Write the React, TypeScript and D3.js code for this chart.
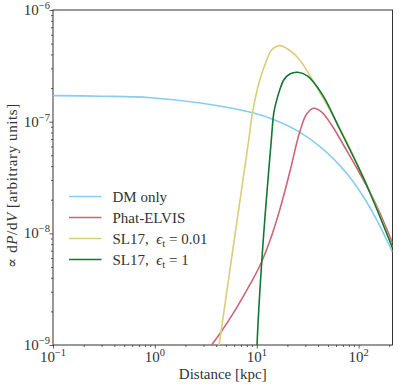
import { useEffect, useRef } from "react";
import * as d3 from "d3";

// distances in kpc, values in arbitrary units
const dmR = [0.1, 0.3, 0.9, 2.8, 9.14, 15, 26.4, 44.4, 65.2, 85.3, 114.6, 150, 215];
const dmV = [1.71e-7, 1.69e-7, 1.64e-7, 1.47e-7, 1.2e-7, 1.035e-7, 8.05e-8, 5.71e-8, 4.06e-8, 3.04e-8, 2.04e-8, 1.33e-8, 6.8e-9];

const elvisR = [3.09, 3.6, 4.34, 6.08, 8.53, 10.7, 13.4, 16.8, 21.1, 26.4, 30.9, 36.2, 43.4, 54.3, 72.9, 102, 144, 215];
const elvisV = [8.4e-10, 1e-9, 1.26e-9, 2.02e-9, 3.45e-9, 5.1e-9, 8.5e-9, 1.62e-8, 3.54e-8, 8.07e-8, 1.17e-7, 1.32e-7, 1.22e-7, 9.34e-8, 5.93e-8, 3.47e-8, 1.91e-8, 8.2e-9];

const sl001R = [3.87, 4.27, 5.82, 8.35, 9.08, 10.7, 12.2, 14.0, 16.4, 20.1, 26.4, 38.7, 65.1, 115, 215];
const sl001V = [5.4e-10, 1e-9, 7.1e-9, 6.86e-8, 1.2e-7, 2.36e-7, 3.35e-7, 4.38e-7, 4.79e-7, 4.48e-7, 3.57e-7, 2.04e-7, 8.8e-8, 3.0e-8, 7.55e-9];

const sl1R = [9.89, 10.07, 11.4, 13.9, 14.7, 15.7, 16.8, 18.4, 21.1, 25.2, 31.6, 44.4, 65.1, 115, 215];
const sl1V = [3.2e-10, 1e-9, 7.1e-9, 6.86e-8, 1.2e-7, 1.56e-7, 1.92e-7, 2.36e-7, 2.67e-7, 2.77e-7, 2.56e-7, 1.73e-7, 8.6e-8, 2.94e-8, 7.4e-9];

const seriesR = [dmR, elvisR, sl001R, sl1R];
const seriesV = [dmV, elvisV, sl001V, sl1V];
const seriesColors = ["#88CCEE", "#CC6677", "#DDCC77", "#117733"];

const xMajor = [0.1, 1, 10, 100];
const xExp = ["\u22121", "0", "1", "2"];
const yMajor = [1e-9, 1e-8, 1e-7, 1e-6];
const yExp = ["\u22129", "\u22128", "\u22127", "\u22126"];

const FONT = "'Liberation Serif', 'DejaVu Serif', serif";

export default function App() {
  const ref = useRef<SVGSVGElement>(null);

  useEffect(() => {
    document.body.style.margin = "0";
    const width = 399;
    const height = 386;
    const margin = { top: 10, right: 6.5, bottom: 41, left: 53 };
    const innerW = width - margin.left - margin.right;
    const innerH = height - margin.top - margin.bottom;

    const svg = d3.select(ref.current);
    svg.selectAll("*").remove();
    svg.attr("width", width).attr("height", height).style("font-family", FONT);

    const x = d3.scaleLog().domain([0.1, 215]).range([0, innerW]);
    const y = d3.scaleLog().domain([1e-9, 1e-6]).range([innerH, 0]);

    svg.append("defs").append("clipPath").attr("id", "plotclip")
      .append("rect").attr("width", innerW).attr("height", innerH);

    const g = svg.append("g").attr("transform", `translate(${margin.left},${margin.top})`);

    // minor tick values
    const xMinor: number[] = [];
    for (let e = -1; e <= 2; e++) for (let k = 2; k <= 9; k++) {
      const v = k * Math.pow(10, e);
      if (v < 215) xMinor.push(v);
    }
    const yMinor: number[] = [];
    for (let e = -9; e <= -7; e++) for (let k = 2; k <= 9; k++) yMinor.push(k * Math.pow(10, e));

    const axisColor = "#333";

    const styleAxis = (sel: any) => {
      sel.select(".domain").remove();
      sel.selectAll("line").attr("stroke", axisColor).attr("stroke-width", 0.8);
    };

    g.append("g").attr("transform", `translate(0,${innerH})`)
      .call(d3.axisBottom(x).tickValues(xMajor).tickSize(3.5).tickFormat(() => "") as any)
      .call(styleAxis);
    g.append("g").attr("transform", `translate(0,${innerH})`)
      .call(d3.axisBottom(x).tickValues(xMinor).tickSize(2).tickFormat(() => "") as any)
      .call(styleAxis);
    g.append("g")
      .call(d3.axisLeft(y).tickValues(yMajor).tickSize(3.5).tickFormat(() => "") as any)
      .call(styleAxis);
    g.append("g")
      .call(d3.axisLeft(y).tickValues(yMinor).tickSize(2).tickFormat(() => "") as any)
      .call(styleAxis);

    // frame
    g.append("rect")
      .attr("width", innerW).attr("height", innerH)
      .attr("fill", "none").attr("stroke", axisColor).attr("stroke-width", 1);

    // tick labels
    xMajor.forEach((v, i) => {
      const t = g.append("text")
        .attr("x", x(v)).attr("y", innerH + 17)
        .attr("text-anchor", "middle").attr("fill", axisColor).style("font-size", "15px");
      t.append("tspan").text("10");
      t.append("tspan").attr("dy", -6).style("font-size", "10.5px").text(xExp[i]);
    });
    yMajor.forEach((v, i) => {
      const t = g.append("text")
        .attr("x", -3).attr("y", y(v) + 5)
        .attr("text-anchor", "end").attr("fill", axisColor).style("font-size", "15px");
      t.append("tspan").text("10");
      t.append("tspan").attr("dy", -6).style("font-size", "10.5px").text(yExp[i]);
    });

    // curves
    const line = d3.line<[number, number]>()
      .x((d) => x(d[0]))
      .y((d) => y(d[1]))
      .curve(d3.curveCatmullRom.alpha(0.5));

    const lines = g.append("g").attr("clip-path", "url(#plotclip)");
    seriesR.forEach((rs, i) => {
      const pts = rs.map((r, j) => [r, seriesV[i][j]] as [number, number]);
      lines.append("path")
        .attr("d", line(pts))
        .attr("fill", "none")
        .attr("stroke", seriesColors[i])
        .attr("stroke-width", 1.6);
    });

    // legend
    const legend = g.append("g").attr("transform", `translate(16,${186.5})`);
    seriesColors.forEach((c, i) => {
      const row = legend.append("g").attr("transform", `translate(0,${i * 21})`);
      row.append("line").attr("x1", 0).attr("x2", 32.5).attr("y1", 0).attr("y2", 0)
        .attr("stroke", c).attr("stroke-width", 1.6);
      const t = row.append("text").attr("x", 43.5).attr("y", 5)
        .attr("fill", axisColor).style("font-size", "15px");
      if (i === 0) t.text("DM only");
      else if (i === 1) t.text("Phat-ELVIS");
      else {
        t.append("tspan").text("SL17,\u2002");
        t.append("tspan").style("font-style", "italic").text("\u03f5");
        t.append("tspan").attr("dy", 3).style("font-size", "10.5px").text("t");
        t.append("tspan").attr("dy", -3).text(i === 2 ? " = 0.01" : " = 1");
      }
    });

    // axis labels
    svg.append("text")
      .attr("x", margin.left + innerW / 2).attr("y", 379)
      .attr("text-anchor", "middle").attr("fill", axisColor).style("font-size", "15px")
      .text("Distance [kpc]");

    const yl = svg.append("text")
      .attr("transform", `translate(17,${margin.top + innerH / 2 + 8}) rotate(-90)`)
      .attr("text-anchor", "middle").attr("fill", axisColor).style("font-size", "15px")
      .style("letter-spacing", "0.6px");
    yl.append("tspan").text("\u221d d");
    yl.append("tspan").style("font-style", "italic").text("P");
    yl.append("tspan").text("/d");
    yl.append("tspan").style("font-style", "italic").text("V");
    yl.append("tspan").text(" [arbitrary units]");
  }, []);

  return <svg ref={ref} />;
}
